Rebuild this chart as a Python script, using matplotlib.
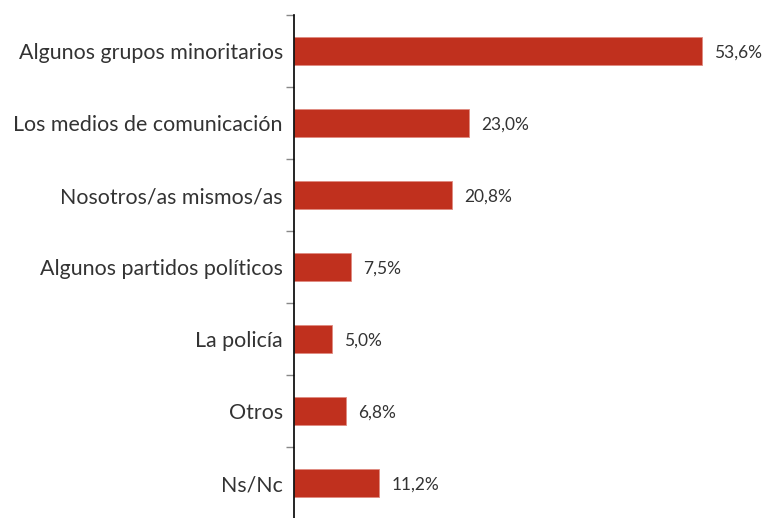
import numpy as np
import matplotlib.pyplot as plt

categorias = ["Algunos grupos minoritarios", "Los medios de comunicación",
              "Nosotros/as mismos/as", "Algunos partidos políticos",
              "La policía", "Otros", "Ns/Nc"]
valores = [53.6, 23.0, 20.8, 7.5, 5.0, 6.8, 11.2]

plt.rcParams['font.family'] = ['Lato', 'DejaVu Sans']

fig = plt.figure(figsize=(7.66, 5.18), dpi=100)
ax = fig.add_axes([294 / 766, -1 / 518, 472 / 766, 504 / 518])

y = np.arange(len(categorias))
ax.barh(y, valores, height=0.4, color="#C0301E", edgecolor="#E08A80", linewidth=0.6)
for yi, v in zip(y, valores):
    ax.text(v + 1.6, yi + 0.02, f"{v:.1f}%".replace(".", ","), va="center", ha="left",
            fontsize=12.5, color="#333333")

ax.set_xlim(0, 62)
ax.set_ylim(len(categorias) - 0.5, -0.5)
ax.set_yticks(y)
ax.set_yticklabels(categorias, fontsize=15.4, color="#333333")
ax.set_yticks(np.arange(len(categorias) + 1) - 0.5, minor=True)
ax.tick_params(axis="y", which="major", length=0, pad=8)
ax.tick_params(axis="y", which="minor", length=6, color="#888888", width=1)
ax.set_xticks([])
for s in ["top", "right", "bottom"]:
    ax.spines[s].set_visible(False)
ax.spines["left"].set_color("black")
ax.spines["left"].set_linewidth(1.2)

fig.savefig("out.png", dpi=100)
